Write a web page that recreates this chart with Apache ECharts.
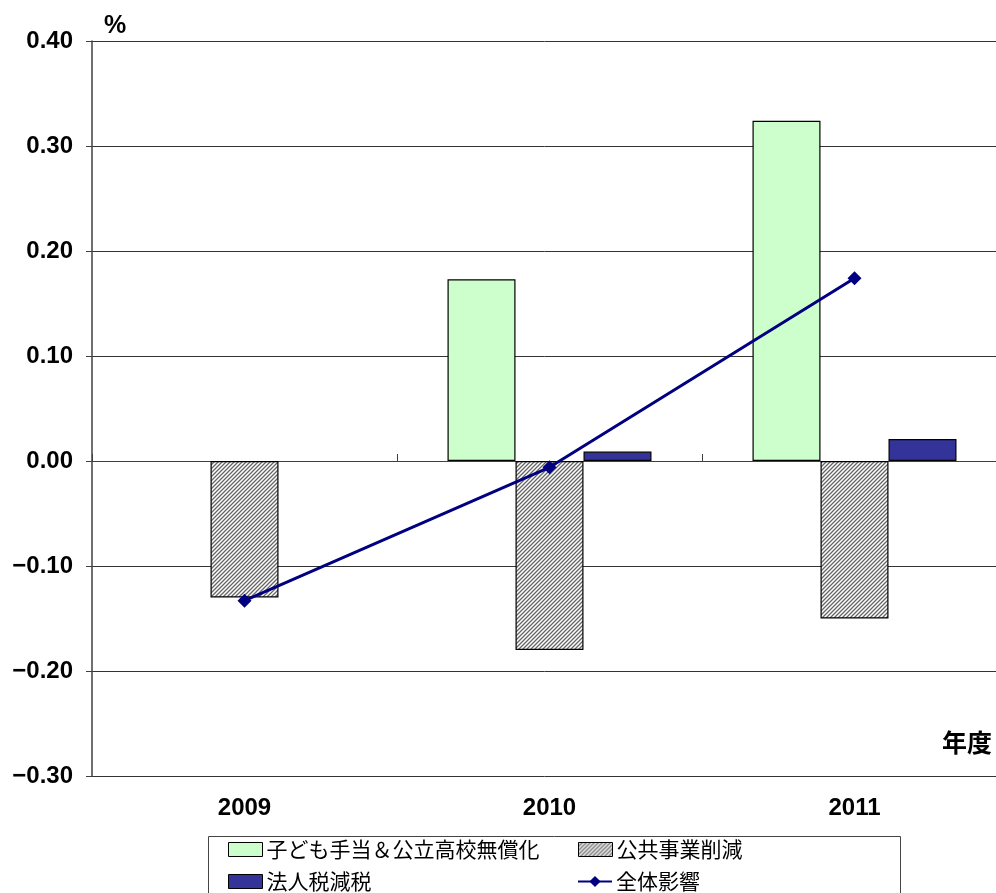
<!DOCTYPE html>
<html>
<head>
<meta charset="utf-8">
<script src="https://cdn.jsdelivr.net/npm/echarts@6/dist/echarts.min.js"></script>
<style>
  html, body { margin: 0; padding: 0; background: #fff; }
  #chart { width: 996px; height: 893px; }
</style>
</head>
<body>
<div id="chart"></div>
<script>
// Fiscal years and the contribution of each measure (percentage points)
const years = ['2009', '2010', '2011'];
const childAllowance = [null, 0.173, 0.324];    // 子ども手当＆公立高校無償化
const publicWorksCut = [-0.130, -0.180, -0.150]; // 公共事業削減
const corpTaxCut = [null, 0.009, 0.021];         // 法人税減税
const totalEffect = [-0.133, -0.006, 0.174];     // 全体影響
const yTicks = { min: -0.3, max: 0.4, interval: 0.1 };

const names = ['子ども手当＆公立高校無償化', '公共事業削減', '法人税減税', '全体影響'];

// Diagonal hatch used for the public-works bars
function hatch() {
  const c = document.createElement('canvas');
  c.width = 4; c.height = 4;
  const g = c.getContext('2d');
  g.fillStyle = '#ffffff';
  g.fillRect(0, 0, 4, 4);
  g.strokeStyle = '#666666';
  g.lineWidth = 1.3;
  g.beginPath();
  g.moveTo(-1, 5); g.lineTo(5, -1);
  g.moveTo(-1, 1); g.lineTo(1, -1);
  g.moveTo(3, 5); g.lineTo(5, 3);
  g.stroke();
  return { image: c, repeat: 'repeat' };
}

const numFont = '"Liberation Sans", Arial, sans-serif';
const cjkFont = '"Noto Sans CJK JP", sans-serif';

// One legend entry per component so the entries sit in a 2x2 layout
function legendItem(name, left, top, icon) {
  const item = {
    orient: 'horizontal', left: left, top: top, padding: 0, itemGap: 0,
    itemWidth: 34, itemHeight: 14,
    textStyle: { fontFamily: cjkFont, fontSize: 21, color: '#000', padding: [0, 0, 0, -1] },
    data: [name]
  };
  if (icon) {
    item.icon = icon;
    item.itemStyle = { borderColor: '#000', borderWidth: 1 };
  }
  return item;
}

const chart = echarts.init(document.getElementById('chart'), null, { renderer: 'canvas' });
chart.setOption({
  animation: false,
  backgroundColor: '#ffffff',
  grid: { left: 92, width: 915, top: 41, height: 735, containLabel: false, outerBoundsMode: 'none' },
  xAxis: [
    {
      // year labels below the plot
      type: 'category', data: years, position: 'bottom',
      axisLine: { show: false, onZero: false }, axisTick: { show: false },
      axisLabel: { margin: 20, fontFamily: numFont, fontWeight: 'bold', fontSize: 24, color: '#000' }
    },
    {
      // baseline at zero with category tick marks
      type: 'category', data: years, position: 'bottom',
      axisLine: { show: true, onZero: true, lineStyle: { color: '#404040', width: 1 } },
      axisTick: { show: true, inside: true, length: 7, lineStyle: { color: '#404040' } },
      axisLabel: { show: false }
    }
  ],
  yAxis: {
    type: 'value', min: yTicks.min, max: yTicks.max, interval: yTicks.interval,
    axisLine: { show: true, lineStyle: { color: '#404040', width: 1.5 } },
    axisTick: { show: true, length: 6, lineStyle: { color: '#404040' } },
    splitLine: { show: true, lineStyle: { color: '#333', width: 1 } },
    axisLabel: {
      margin: 19, fontFamily: numFont, fontWeight: 'bold', fontSize: 24, color: '#000',
      formatter: v => v.toFixed(2).replace('-', '\u2212')
    }
  },
  legend: [
    legendItem(names[0], 228, 839, 'rect'),
    legendItem(names[1], 578, 839, 'rect'),
    legendItem(names[2], 228, 871, 'rect'),
    legendItem(names[3], 577, 871, null)
  ],
  graphic: [
    { type: 'rect', shape: { x: 208.5, y: 836.5, width: 692, height: 80 },
      style: { fill: 'none', stroke: '#444', lineWidth: 1 }, z: 10, silent: true },
    { type: 'text', left: 104, top: 14,
      style: { text: '%', font: 'bold 25px ' + numFont, fill: '#000' } },
    { type: 'text', right: 4, top: 730,
      style: { text: '年度', font: 'bold 25px ' + cjkFont, fill: '#000' } }
  ],
  series: [
    {
      name: names[0], type: 'bar', data: childAllowance, barWidth: 68, barGap: '0%',
      itemStyle: { color: '#ccffcc', borderColor: '#000', borderWidth: 1.2 }
    },
    {
      name: names[1], type: 'bar', data: publicWorksCut, barWidth: 68, barGap: '0%',
      itemStyle: { color: hatch(), borderColor: '#000', borderWidth: 1.2 }
    },
    {
      name: names[2], type: 'bar', data: corpTaxCut, barWidth: 68, barGap: '0%',
      itemStyle: { color: '#333399', borderColor: '#000', borderWidth: 1.2 }
    },
    {
      name: names[3], type: 'line', data: totalEffect,
      symbol: 'diamond', symbolSize: 14, z: 5,
      lineStyle: { color: '#000080', width: 3 },
      itemStyle: { color: '#000080' }
    }
  ]
});
</script>
</body>
</html>
